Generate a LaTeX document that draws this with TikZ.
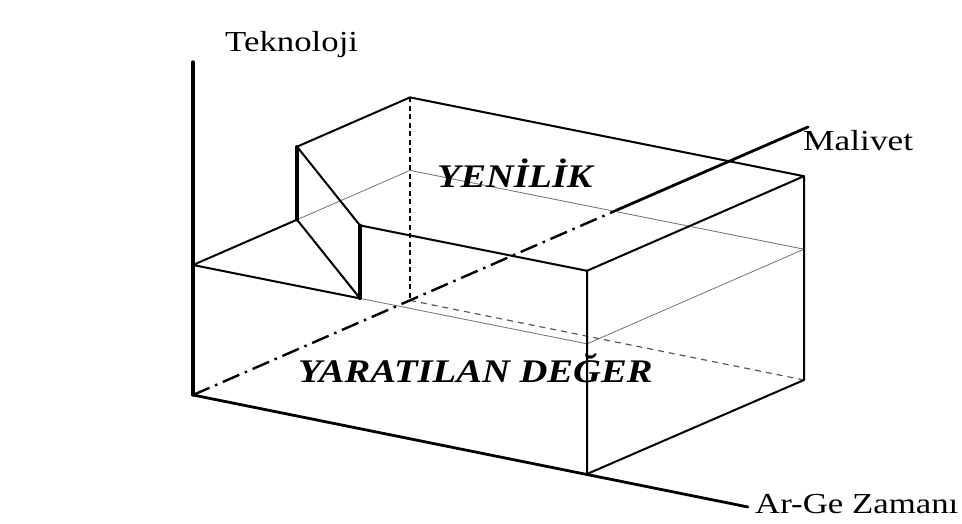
\documentclass[tikz,border=0pt]{standalone}
\usepackage{fontspec}
\setmainfont{Liberation Serif}
\begin{document}
\begin{tikzpicture}[x=1pt,y=-1pt,
  edge/.style={line width=2pt, line cap=round, line join=round},
  heavy/.style={line width=3.4pt, line cap=round},
  axisline/.style={line width=2.8pt, line cap=round},
  thinline/.style={line width=0.8pt, black!55},
  hidden/.style={line width=1.8pt, dash pattern=on 5pt off 3.5pt},
  hiddenthin/.style={line width=1.2pt, black!65, dash pattern=on 6pt off 5pt},
  dashdot/.style={line width=2.4pt, dash pattern=on 18pt off 6pt on 2.5pt off 6pt},
  lbl/.style={inner sep=0pt, anchor=base west},
  axislbl/.style={lbl, font=\fontsize{29}{29}\selectfont},
  boxlbl/.style={lbl, font=\fontsize{33}{33}\selectfont\bfseries\itshape}]
\useasboundingbox (0,0) rectangle (962,524);

% key points
\coordinate (O)   at (193,395);
\coordinate (T)   at (193,62);
\coordinate (E)   at (748,507);
\coordinate (M)   at (808,127);
\coordinate (Ms)  at (617,210);
\coordinate (P1)  at (193,265);
\coordinate (P2)  at (297,219.7);
\coordinate (P3)  at (297,146.7);
\coordinate (P4)  at (410,97.4);
\coordinate (P5)  at (804,176.2);
\coordinate (P6)  at (587,270.8);
\coordinate (P7)  at (360,225.4);
\coordinate (P8)  at (360,298.4);
\coordinate (FBR) at (587,474);
\coordinate (BRB) at (804,380);
\coordinate (BLB) at (410,300.4);
\coordinate (L1)  at (587,343.8);
\coordinate (L2)  at (804,249.2);
\coordinate (L3)  at (410,170.4);

% thin plane at the lower height
\draw[thinline] (P8) -- (L1) -- (L2) -- (L3) -- (P2);

% hidden edges
\draw[hidden] (P4) -- (BLB);
\draw[hiddenthin] (BLB) -- (BRB);

% Malivet axis
\draw[dashdot] (O) -- (Ms);
\draw[axisline] (Ms) -- (M);

% axes
\draw[heavy] (O) -- (T);
\draw[axisline] (O) -- (E);

% low triangle
\draw[edge] (P1) -- (P2) -- (P8) -- cycle;
% step wall
\draw[heavy] (P2) -- (P3);
\draw[heavy] (P8) -- (P7);
\draw[edge] (P3) -- (P7);
% top face
\draw[edge] (P3) -- (P4) -- (P5) -- (P6) -- (P7);
% right part
\draw[edge] (P6) -- (FBR) -- (BRB) -- (P5);

% labels
\node[axislbl] (tek) at (225,52) {\scalebox{1.2}[1]{Teknoloji}};
\node[axislbl] (mal) at (803,151) {\scalebox{1.22}[1]{Malivet}};
\node[axislbl] (arge) at (755,513) {\scalebox{1.2}[1]{Ar-Ge Zaman\i}};
\node[boxlbl] (yen) at (437,188) {\scalebox{1.16}[1]{YENİLİK}};
\node[boxlbl] (yar) at (298,382) {\scalebox{1.17}[1]{YARATILAN DEĞER}};
\end{tikzpicture}
\end{document}
